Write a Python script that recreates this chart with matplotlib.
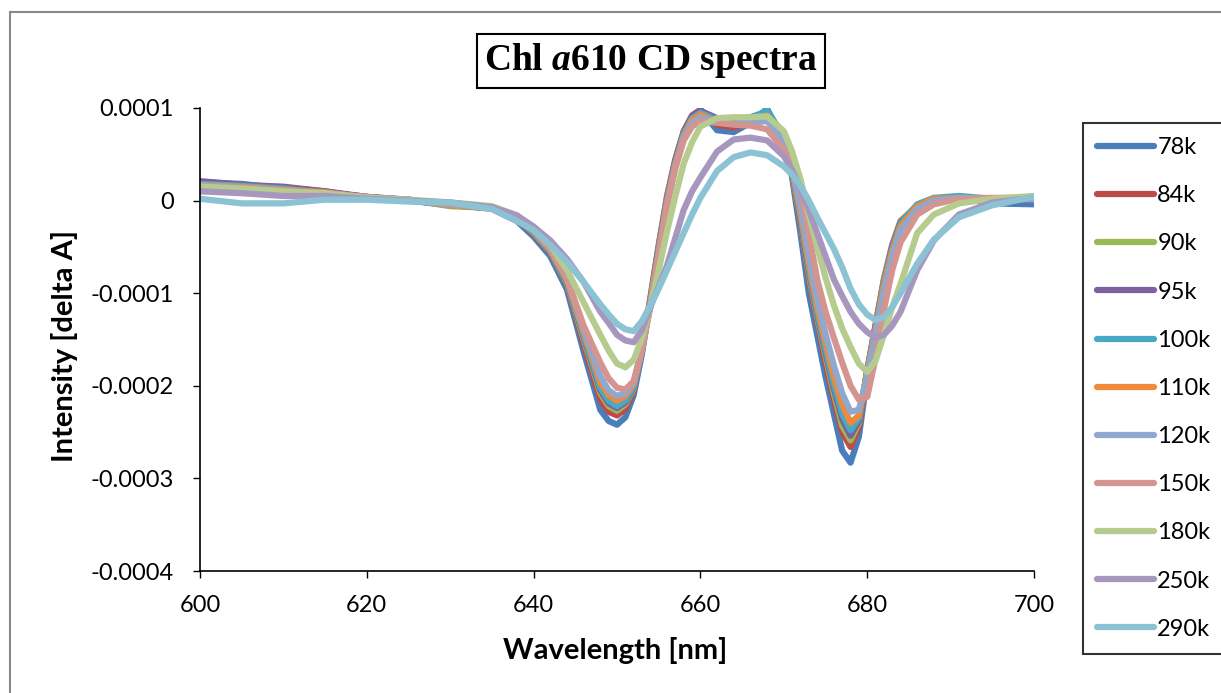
import matplotlib
matplotlib.use("Agg")
import matplotlib.pyplot as plt
from matplotlib.patches import Rectangle

# wavelength grid (nm)
wavelength = [600, 605, 610, 615, 620, 625, 630, 635, 638, 640, 642, 644, 646, 648,
              649, 650, 651, 652, 653, 654, 655, 656, 657, 658, 659, 660,
              662, 664, 666, 668, 670,
              671, 672, 673, 674, 675, 676, 677, 678, 679, 680, 681, 682, 683, 684,
              686, 688, 691, 695, 700]

# CD intensity in units of 1e-5 delta A
s78 = [2.0, 1.8, 1.3, 0.9, 0.4, 0.0, -0.4, -0.9, -2.2, -3.9, -6.0, -9.6, -16.3, -22.6,
       -23.8, -24.2, -23.4, -21.0, -16.5, -10.8, -5.0, 0.0, 4.0, 7.0, 9.0, 9.8,
       7.6, 7.4, 8.4, 9.9, 6.5,
       2.5, -3.5, -10.0, -14.5, -19.0, -23.0, -27.0, -28.3, -25.5, -19.0, -14.0, -9.0, -5.5, -3.0,
       -1.0, 0.0, 0.3, -0.3, -0.4]
s84 = [2.0, 1.6, 1.4, 1.0, 0.3, 0.1, -0.5, -0.8, -2.0, -3.6, -5.6, -9.0, -15.5, -21.5,
       -22.8, -23.2, -22.5, -20.5, -16.0, -10.5, -4.8, 0.5, 4.5, 7.5, 9.2, 9.8,
       8.2, 7.9, 8.4, 9.4, 6.8,
       2.8, -2.5, -8.5, -13.0, -17.5, -21.5, -25.0, -26.6, -24.5, -18.5, -13.5, -8.5, -4.8, -2.2,
       -0.6, 0.1, 0.3, 0.0, 0.1]
s90 = [1.9, 1.5, 1.2, 0.9, 0.4, 0.1, -0.6, -0.8, -1.9, -3.5, -5.5, -8.9, -15.0, -20.8,
       -22.2, -22.7, -22.0, -20.3, -16.0, -10.8, -5.0, 0.3, 4.3, 7.3, 9.0, 9.6,
       8.6, 8.4, 8.6, 9.3, 6.6,
       2.9, -2.2, -8.0, -12.6, -16.8, -20.8, -24.3, -25.9, -24.0, -18.3, -13.5, -8.6, -5.0, -2.3,
       -0.5, 0.2, 0.4, 0.1, 0.3]
s95 = [2.1, 1.7, 1.5, 1.0, 0.4, 0.1, -0.4, -0.7, -1.9, -3.4, -5.4, -8.7, -14.7, -20.5,
       -21.9, -22.4, -21.8, -20.1, -16.0, -10.9, -5.2, 0.2, 4.3, 7.4, 9.1, 9.7,
       8.9, 8.6, 9.0, 9.6, 6.9,
       3.2, -2.0, -7.6, -12.3, -16.4, -20.3, -23.6, -25.4, -23.8, -18.4, -13.5, -8.8, -5.0, -2.4,
       -0.6, 0.1, 0.3, 0.2, 0.2]
s100 = [1.8, 1.6, 1.3, 0.8, 0.3, 0.0, -0.5, -0.8, -1.9, -3.4, -5.4, -8.6, -14.5, -20.2,
        -21.6, -22.2, -21.6, -20.0, -16.1, -11.0, -5.4, 0.0, 4.1, 7.2, 8.9, 9.5,
        8.7, 8.5, 8.9, 9.7, 7.0,
        3.4, -1.6, -7.2, -12.0, -16.0, -19.8, -23.0, -24.8, -23.5, -18.5, -13.8, -8.9, -5.2, -2.5,
        -0.4, 0.3, 0.5, 0.2, 0.1]
s110 = [1.7, 1.5, 1.2, 0.9, 0.3, 0.1, -0.5, -0.8, -1.9, -3.3, -5.3, -8.5, -14.2, -19.6,
        -21.0, -21.6, -21.1, -19.8, -16.0, -11.1, -5.6, -0.2, 3.9, 7.0, 8.7, 9.3,
        8.5, 8.3, 8.6, 9.2, 6.8,
        3.4, -1.2, -6.6, -11.4, -15.3, -19.0, -22.0, -24.0, -23.2, -18.6, -14.0, -9.2, -5.5, -2.8,
        -0.6, 0.2, 0.3, 0.1, 0.2]
s120 = [1.7, 1.4, 1.1, 0.8, 0.3, 0.0, -0.4, -0.8, -1.8, -3.2, -5.2, -8.4, -13.9, -19.0,
        -20.5, -21.1, -20.8, -19.7, -16.0, -11.3, -5.8, -0.4, 3.7, 6.8, 8.4, 9.0,
        8.5, 8.3, 8.4, 8.6, 6.5,
        3.5, -0.5, -5.8, -10.6, -14.4, -17.8, -20.8, -22.8, -22.6, -19.0, -14.5, -9.8, -6.0, -3.2,
        -0.9, 0.0, 0.3, 0.2, 0.2]
s150 = [1.6, 1.3, 1.0, 0.8, 0.4, 0.0, -0.3, -0.8, -1.8, -3.2, -5.2, -8.4, -13.5, -17.5,
        -19.2, -20.2, -20.4, -19.5, -16.0, -11.5, -6.0, -0.5, 3.5, 6.5, 8.0, 8.6,
        8.4, 8.2, 8.1, 7.7, 5.5,
        3.8, 1.5, -3.5, -8.5, -12.0, -14.8, -17.5, -20.0, -21.5, -21.2, -17.0, -11.8, -7.5, -4.5,
        -1.5, -0.4, 0.2, 0.3, 0.3]
s180 = [1.5, 1.3, 1.0, 0.8, 0.3, 0.1, -0.2, -0.6, -1.6, -3.0, -4.8, -7.5, -11.0, -14.5,
        -16.2, -17.6, -18.0, -17.2, -14.8, -11.5, -7.5, -3.3, 0.5, 4.0, 6.3, 8.0,
        8.9, 9.0, 9.0, 9.1, 7.5,
        5.3, 2.3, -1.5, -5.0, -8.3, -11.3, -13.8, -15.8, -17.6, -18.5, -17.3, -14.5, -11.5, -9.0,
        -3.5, -1.5, -0.3, 0.2, 0.5]
s250 = [1.0, 0.8, 0.5, 0.5, 0.2, 0.0, -0.2, -0.7, -1.6, -2.8, -4.3, -6.3, -8.8, -12.0,
        -13.2, -14.5, -15.1, -15.3, -14.0, -11.5, -9.3, -7.0, -4.0, -1.0, 1.0, 2.5,
        5.3, 6.6, 6.8, 6.5, 4.8,
        3.3, 1.3, -1.0, -3.5, -6.0, -8.5, -10.3, -12.0, -13.3, -14.2, -14.8, -14.5, -13.5, -12.0,
        -7.5, -4.3, -1.5, -0.2, 0.3]
s290 = [0.2, -0.3, -0.3, 0.1, 0.1, -0.1, -0.2, -0.9, -2.2, -3.2, -4.8, -6.6, -8.8, -11.2,
        -12.3, -13.3, -13.9, -14.1, -13.0, -11.3, -9.5, -7.5, -5.5, -3.5, -1.5, 0.3,
        3.2, 4.7, 5.2, 4.9, 3.7,
        2.8, 1.6, 0.0, -1.8, -3.5, -5.2, -7.2, -9.5, -11.2, -12.3, -12.9, -12.6, -11.5, -10.0,
        -6.8, -4.2, -1.8, -0.5, 0.4]

labels = ['78k', '84k', '90k', '95k', '100k', '110k', '120k', '150k', '180k', '250k', '290k']
series = [s78, s84, s90, s95, s100, s110, s120, s150, s180, s250, s290]
colors = ['#4A7EBB', '#BE4B48', '#98B954', '#7D60A0', '#46AAC5', '#F08A3A',
          '#8EA8D0', '#D49490', '#B5CC8E', '#A797BE', '#8BC2D4']

yticks = [0.0001, 0, -0.0001, -0.0002, -0.0003, -0.0004]
ytick_labels = ['0.0001', '0', '-0.0001', '-0.0002', '-0.0003', '-0.0004']
xticks = [600, 620, 640, 660, 680, 700]

plt.rcParams['font.family'] = ['Lato', 'DejaVu Sans']
plt.rcParams['mathtext.fontset'] = 'custom'
plt.rcParams['mathtext.it'] = 'Liberation Serif:italic:bold'
plt.rcParams['mathtext.rm'] = 'Liberation Serif:bold'

fig = plt.figure(figsize=(12.21, 6.93), dpi=100)
ax = fig.add_axes([200 / 1221, 1 - 571 / 693, 834 / 1221, 463 / 693])

for vals, lab, col in zip(series, labels, colors):
    ax.plot(wavelength, [v * 1e-5 for v in vals], color=col, lw=4.5, label=lab,
            solid_joinstyle='round', solid_capstyle='round')

ax.set_xlim(600, 700)
ax.set_ylim(-0.0004, 0.0001)
ax.set_xticks(xticks)
ax.set_yticks(yticks)
ax.set_yticklabels(ytick_labels)
ax.tick_params(direction='out', length=5, width=1, labelsize=17)
ax.tick_params(axis='y', pad=14)
ax.tick_params(axis='x', pad=12)
for side in ['top', 'right']:
    ax.spines[side].set_visible(False)
for side in ['left', 'bottom']:
    ax.spines[side].set_linewidth(1.2)

ax.set_xlabel('Wavelength [nm]', fontsize=21, fontweight='bold')
ax.set_ylabel('Intensity [delta A]', fontsize=21, fontweight='bold')
ax.xaxis.set_label_coords(0.498, -0.171)
ax.yaxis.set_label_coords(-0.162, 0.486)
ax.xaxis.label.set_verticalalignment('center')
ax.yaxis.label.set_verticalalignment('center')

fig.text(651 / 1221, 1 - 61 / 693, r'Chl $a$610 CD spectra', ha='center', va='center',
         fontsize=27, family='Liberation Serif', fontweight='bold',
         bbox=dict(boxstyle='square,pad=0.2', fc='white', ec='black', lw=1.5))

leg = fig.legend(loc='upper left', bbox_to_anchor=(1083 / 1221, 1 - 123 / 693),
                 fontsize=17, frameon=True, fancybox=False, edgecolor='black',
                 handlelength=2.4, handletextpad=0.15, labelspacing=1.15,
                 borderpad=0.6, borderaxespad=0)
leg.get_frame().set_linewidth(1.5)

# outer chart-area border
fig.patches.append(Rectangle((10 / 1221, -0.1), 1.2, 1 - 12 / 693 + 0.1,
                             transform=fig.transFigure, fill=False,
                             edgecolor='#888888', lw=1.5))

fig.savefig('out.png', dpi=100)
